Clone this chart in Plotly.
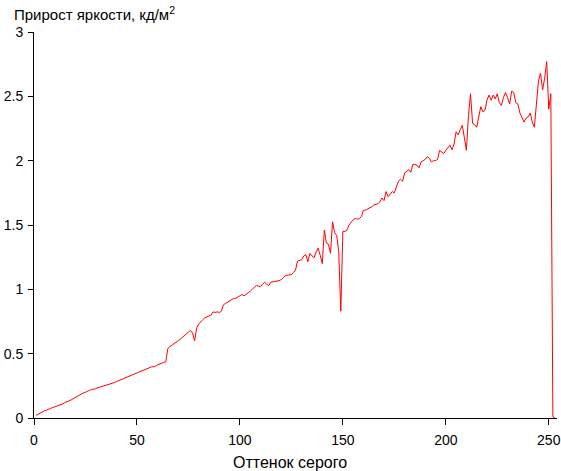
import plotly.graph_objects as go

# Gray level (x) and brightness increment (y)
gray_levels = list(range(1, 254))

increment = [
    # 1-20
    0.020, 0.030, 0.035, 0.045, 0.055, 0.060, 0.070, 0.075, 0.080, 0.085,
    0.090, 0.100, 0.105, 0.110, 0.120, 0.125, 0.130, 0.140, 0.150, 0.160,
    # 21-40
    0.170, 0.180, 0.185, 0.195, 0.200, 0.210, 0.215, 0.220, 0.222, 0.228,
    0.235, 0.240, 0.243, 0.248, 0.252, 0.258, 0.262, 0.268, 0.275, 0.283,
    # 41-60
    0.290, 0.297, 0.302, 0.308, 0.315, 0.322, 0.328, 0.335, 0.342, 0.350,
    0.360, 0.367, 0.374, 0.380, 0.386, 0.393, 0.397, 0.399, 0.402, 0.412,
    # 61-80
    0.420, 0.425, 0.432, 0.437, 0.540, 0.555, 0.565, 0.578, 0.590, 0.600,
    0.612, 0.628, 0.642, 0.655, 0.668, 0.680, 0.660, 0.600, 0.700, 0.730,
    # 81-100
    0.750, 0.765, 0.780, 0.785, 0.790, 0.800, 0.825, 0.820, 0.825, 0.820,
    0.830, 0.880, 0.890, 0.900, 0.910, 0.925, 0.930, 0.930, 0.940, 0.955,
    # 101-120
    0.960, 0.950, 0.960, 0.975, 0.985, 1.000, 1.015, 1.030, 1.025, 1.020,
    1.040, 1.055, 1.040, 1.030, 1.055, 1.060, 1.060, 1.065, 1.067, 1.075,
    # 121-140
    1.090, 1.105, 1.110, 1.110, 1.115, 1.130, 1.150, 1.220, 1.225, 1.230,
    1.260, 1.270, 1.215, 1.280, 1.260, 1.245, 1.290, 1.320, 1.265, 1.200,
    # 141-160
    1.460, 1.360, 1.350, 1.280, 1.525, 1.440, 1.420, 1.290, 0.830, 1.450,
    1.450, 1.460, 1.500, 1.525, 1.540, 1.550, 1.545, 1.550, 1.565, 1.615,
    # 161-180
    1.615, 1.625, 1.630, 1.640, 1.655, 1.660, 1.665, 1.680, 1.710, 1.690,
    1.760, 1.720, 1.740, 1.760, 1.750, 1.800, 1.840, 1.855, 1.840, 1.905,
    # 181-200
    1.920, 1.930, 1.910, 1.970, 1.970, 1.965, 1.945, 1.990, 2.000, 2.010,
    2.030, 2.020, 1.990, 2.000, 2.000, 2.010, 2.080, 2.070, 2.055, 2.080,
    # 201-220
    2.100, 2.120, 2.085, 2.130, 2.225, 2.200, 2.240, 2.275, 2.180, 2.080,
    2.350, 2.520, 2.290, 2.280, 2.260, 2.330, 2.420, 2.380, 2.390, 2.470,
    # 221-240
    2.510, 2.470, 2.510, 2.480, 2.520, 2.450, 2.430, 2.490, 2.530, 2.490,
    2.440, 2.540, 2.530, 2.450, 2.440, 2.370, 2.340, 2.300, 2.330, 2.340,
    # 241-253
    2.370, 2.300, 2.260, 2.470, 2.620, 2.680, 2.550, 2.640, 2.770, 2.400,
    2.520, 0.010, 0.000,
]

x_ticks = [0, 50, 100, 150, 200, 250]
y_ticks = [0, 0.5, 1, 1.5, 2, 2.5, 3]
y_tick_text = ["0", "0.5", "1", "1.5", "2", "2.5", "3"]

FONT = "Liberation Sans, Arial, sans-serif"

fig = go.Figure()
fig.add_trace(go.Scatter(
    x=gray_levels, y=increment, mode="lines",
    line=dict(color="#ff0000", width=1),
    hoverinfo="skip", showlegend=False, cliponaxis=False,
))

axis_common = dict(
    showgrid=False, zeroline=False, showline=True, linecolor="black",
    linewidth=1, ticks="outside", tickcolor="black", tickwidth=1,
    automargin=False,
    tickfont=dict(family=FONT, size=14, color="black"),
)

fig.update_layout(
    width=561, height=471,
    margin=dict(l=34, r=4, t=32, b=53),
    paper_bgcolor="white", plot_bgcolor="white",
    xaxis=dict(range=[0, 254], tickvals=x_ticks, ticklen=6,
               ticklabelstandoff=3, **axis_common),
    yaxis=dict(range=[0, 3], tickvals=y_ticks, ticktext=y_tick_text,
               ticklen=5, ticklabelstandoff=2, **axis_common),
    annotations=[
        dict(text="Прирост яркости, кд/м<sup>2</sup>", xref="paper", yref="paper",
             x=-0.042, y=1.049, xanchor="left", yanchor="middle", showarrow=False,
             font=dict(family=FONT, size=15, color="black")),
        dict(text="Оттенок серого", xref="paper", yref="paper",
             x=0.4895, y=-0.116, xanchor="center", yanchor="middle", showarrow=False,
             font=dict(family=FONT, size=16, color="black")),
    ],
)

fig.write_html(
    "out.html",
    config={"displayModeBar": False},
    post_script="document.body.style.margin='0';document.body.style.overflow='hidden';",
)
